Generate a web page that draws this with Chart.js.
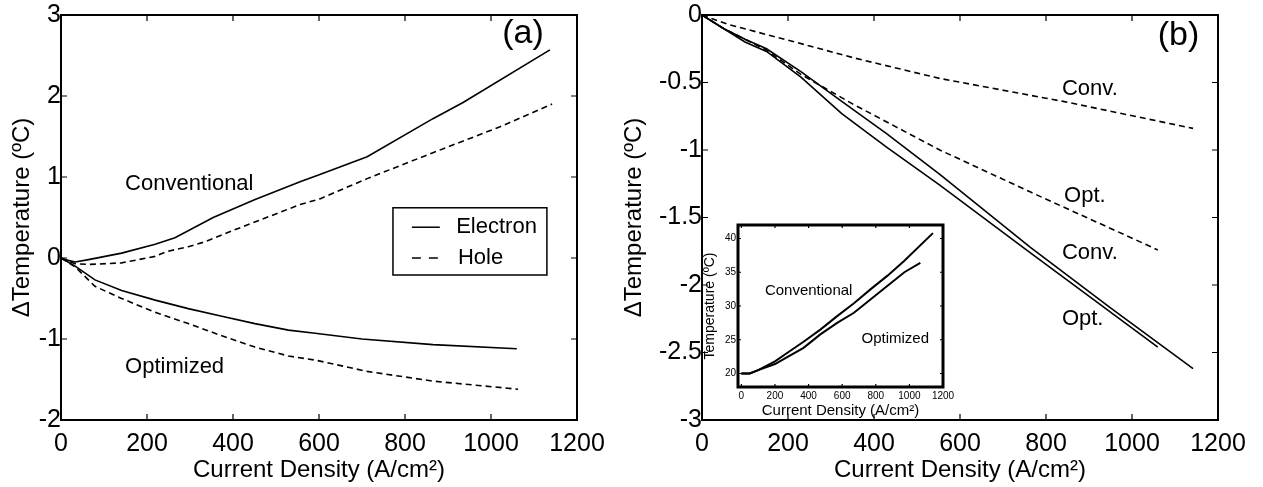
<!DOCTYPE html>
<html>
<head>
<meta charset="utf-8">
<script src="https://cdn.jsdelivr.net/npm/chart.js@4.4.1/dist/chart.umd.min.js"></script>
<style>
  body { margin: 0; background: #fff; }
  #wrap { position: relative; width: 1263px; height: 487px; overflow: hidden; }
  canvas { position: absolute; }
</style>
</head>
<body>
<div id="wrap">
  <canvas id="chartA" width="630" height="487" style="left:0;top:0"></canvas>
  <canvas id="chartB" width="648" height="487" style="left:615px;top:0"></canvas>
  <canvas id="chartInset" width="258" height="205" style="left:700px;top:215px"></canvas>
</div>
<script>
// tick values
const ticksX = [0, 200, 400, 600, 800, 1000, 1200];
const ticksYA = [-2, -1, 0, 1, 2, 3];
const ticksYB = [-3, -2.5, -2, -1.5, -1, -0.5, 0];
const ticksYInset = [20, 25, 30, 35, 40];

// (a) [current density, delta T]
const convElectronA = [[0,0],[9,-0.02],[33,-0.05],[64,-0.02],[141,0.06],[219,0.17],[265,0.25],[354,0.5],[450,0.72],[556,0.94],[602,1.03],[712,1.25],[865,1.72],[935,1.92],[1137,2.57]];
const convHoleA = [[0,0],[33,-0.07],[64,-0.08],[141,-0.06],[219,0.02],[246,0.08],[296,0.14],[335,0.2],[400,0.34],[556,0.66],[602,0.73],[712,0.98],[865,1.3],[1021,1.62],[1142,1.9]];
const optElectronA = [[0,0],[33,-0.1],[79,-0.27],[141,-0.4],[219,-0.52],[296,-0.625],[374,-0.72],[451,-0.81],[529,-0.89],[591,-0.93],[700,-1.0],[865,-1.07],[1060,-1.12]];
const optHoleA = [[0,0],[33,-0.11],[79,-0.35],[141,-0.5],[219,-0.67],[296,-0.81],[374,-0.96],[451,-1.1],[529,-1.21],[591,-1.26],[712,-1.4],[865,-1.52],[1063,-1.62]];

// (b)
const convElectronB = [[0,0],[50,-0.1],[100,-0.18],[150,-0.25],[230,-0.42],[325,-0.64],[430,-0.88],[553,-1.18],[763,-1.72],[950,-2.17],[1142,-2.62]];
const optElectronB = [[0,0],[50,-0.1],[100,-0.2],[150,-0.27],[230,-0.46],[325,-0.73],[430,-0.98],[553,-1.26],[763,-1.76],[1060,-2.46]];
const convHoleB = [[0,0],[61,-0.07],[216,-0.2],[356,-0.32],[553,-0.47],[840,-0.64],[1142,-0.84]];
const optHoleB = [[0,0],[50,-0.1],[100,-0.18],[150,-0.26],[230,-0.44],[351,-0.66],[553,-1.0],[763,-1.31],[1060,-1.74]];

// inset: temperature (C)
const convInset = [[0,20],[50,20],[100,20.5],[200,21.8],[270,23.0],[370,24.7],[470,26.5],[570,28.5],[670,30.4],[770,32.5],[870,34.5],[970,36.7],[1140,40.8]];
const optInset = [[0,20],[50,20],[100,20.5],[200,21.4],[270,22.4],[370,23.8],[470,25.8],[570,27.5],[670,29.0],[770,31.0],[870,33.0],[970,35.0],[1065,36.4]];

const FONT = "'Liberation Sans', Arial, sans-serif";
const toXY = arr => arr.map(p => ({ x: p[0], y: p[1] }));

// frame with inward ticks, text labels, small legend
const decor = {
  id: 'decor',
  afterDraw(chart, args, opts) {
    const { ctx, chartArea: a, scales: { x, y } } = chart;
    ctx.save();
    ctx.strokeStyle = '#000';
    ctx.lineWidth = opts.frame;
    ctx.strokeRect(a.left, a.top, a.right - a.left, a.bottom - a.top);
    const tl = opts.tick;
    ctx.lineWidth = 1.2;
    ctx.beginPath();
    x.ticks.forEach(t => {
      const px = x.getPixelForValue(t.value);
      if (px <= a.left + 2 || px >= a.right - 2) return;
      ctx.moveTo(px, a.bottom); ctx.lineTo(px, a.bottom - tl);
      ctx.moveTo(px, a.top); ctx.lineTo(px, a.top + tl);
    });
    y.ticks.forEach(t => {
      const py = y.getPixelForValue(t.value);
      if (py <= a.top + 2 || py >= a.bottom - 2) return;
      ctx.moveTo(a.left, py); ctx.lineTo(a.left + tl, py);
      ctx.moveTo(a.right, py); ctx.lineTo(a.right - tl, py);
    });
    ctx.stroke();

    ctx.fillStyle = '#000';
    ctx.textBaseline = 'middle';
    ctx.textAlign = 'left';
    (opts.texts || []).forEach(t => {
      ctx.font = t.font;
      ctx.fillText(t.text, x.getPixelForValue(t.x), y.getPixelForValue(t.y));
    });

    const lg = opts.legend;
    if (lg) {
      const x0 = x.getPixelForValue(lg.box[0]), x1 = x.getPixelForValue(lg.box[2]);
      const y0 = y.getPixelForValue(lg.box[1]), y1 = y.getPixelForValue(lg.box[3]);
      ctx.lineWidth = 1.5;
      ctx.strokeRect(x0, y0, x1 - x0, y1 - y0);
      ctx.font = lg.font;
      lg.items.forEach(it => {
        const py = y.getPixelForValue(it.y);
        ctx.setLineDash(it.dash);
        ctx.beginPath();
        ctx.moveTo(x.getPixelForValue(lg.sample[0]), py);
        ctx.lineTo(x.getPixelForValue(lg.sample[1]), py);
        ctx.stroke();
        ctx.setLineDash([]);
        ctx.fillText(it.text, x.getPixelForValue(it.tx), py);
      });
    }
    ctx.restore();
  }
};

function lineSet(data, dashed, width) {
  return {
    data: toXY(data),
    borderColor: '#000',
    borderWidth: width,
    borderDash: dashed ? [6, 4] : [],
    pointRadius: 0,
    tension: 0,
    fill: false
  };
}

function mainOptions(yMin, yMax, yTicks, yWidth, rightPad, titlePad, decorOpts) {
  return {
    responsive: false,
    animation: false,
    events: [],
    layout: { padding: { left: 0, right: rightPad, top: 14, bottom: 0 } },
    plugins: { legend: { display: false }, tooltip: { enabled: false }, decor: decorOpts },
    scales: {
      x: {
        type: 'linear', min: 0, max: 1200,
        afterBuildTicks: s => { s.ticks = ticksX.map(v => ({ value: v })); },
        afterFit: s => { s.height = 67; },
        grid: { display: false, drawTicks: false },
        border: { display: false },
        ticks: { color: '#000', font: { family: FONT, size: 25 }, padding: 9, maxRotation: 0, autoSkip: false, callback: v => String(v) },
        title: { display: true, text: 'Current Density (A/cm²)', color: '#000', font: { family: FONT, size: 24 }, padding: { top: 0, bottom: 2 } }
      },
      y: {
        type: 'linear', min: yMin, max: yMax,
        afterBuildTicks: s => { s.ticks = yTicks.map(v => ({ value: v })); },
        afterFit: s => { s.width = yWidth; },
        grid: { display: false, drawTicks: false },
        border: { display: false },
        ticks: { color: '#000', font: { family: FONT, size: 25 }, padding: 0, autoSkip: false, callback: v => String(v) },
        title: { display: true, text: 'ΔTemperature (ºC)', color: '#000', font: { family: FONT, size: 24 }, padding: titlePad }
      }
    }
  };
}

const f22 = '22px ' + FONT;
const f34 = '34px ' + FONT;

new Chart(document.getElementById('chartA'), {
  type: 'line',
  data: {
    datasets: [
      lineSet(convElectronA, false, 1.6),
      lineSet(convHoleA, true, 1.6),
      lineSet(optElectronA, false, 1.6),
      lineSet(optHoleA, true, 1.6)
    ]
  },
  options: mainOptions(-2, 3, ticksYA, 61, 53, { top: 8, bottom: 0 }, {
    frame: 2, tick: 6,
    texts: [
      { text: 'Conventional', x: 149, y: 0.92, font: f22 },
      { text: 'Optimized', x: 149, y: -1.34, font: f22 },
      { text: '(a)', x: 1026, y: 2.77, font: f34 }
    ],
    legend: {
      box: [772, 0.62, 1130, -0.21], sample: [816, 881], font: f22,
      items: [
        { text: 'Electron', y: 0.38, tx: 919, dash: [] },
        { text: 'Hole', y: 0.0, tx: 923, dash: [9, 8] }
      ]
    }
  }),
  plugins: [decor]
});

new Chart(document.getElementById('chartB'), {
  type: 'line',
  data: {
    datasets: [
      lineSet(convElectronB, false, 1.6),
      lineSet(optElectronB, false, 1.6),
      lineSet(convHoleB, true, 1.6),
      lineSet(optHoleB, true, 1.6)
    ]
  },
  options: mainOptions(-3, 0, ticksYB, 87, 45, { top: 5, bottom: 0 }, {
    frame: 2, tick: 6,
    texts: [
      { text: 'Conv.', x: 837, y: -0.55, font: f22 },
      { text: 'Opt.', x: 842, y: -1.34, font: f22 },
      { text: 'Conv.', x: 837, y: -1.76, font: f22 },
      { text: 'Opt.', x: 837, y: -2.25, font: f22 },
      { text: '(b)', x: 1060, y: -0.15, font: f34 }
    ]
  }),
  plugins: [decor]
});

new Chart(document.getElementById('chartInset'), {
  type: 'line',
  data: {
    datasets: [
      lineSet(convInset, false, 2),
      lineSet(optInset, false, 2)
    ]
  },
  options: {
    responsive: false,
    animation: false,
    events: [],
    layout: { padding: { left: 0, right: 15, top: 10, bottom: 0 } },
    plugins: {
      legend: { display: false }, tooltip: { enabled: false },
      decor: {
        frame: 3, tick: 3,
        texts: [
          { text: 'Conventional', x: 140, y: 32.3, font: '15px ' + FONT },
          { text: 'Optimized', x: 715, y: 25.1, font: '15px ' + FONT }
        ]
      }
    },
    scales: {
      x: {
        type: 'linear', min: -20, max: 1200,
        afterBuildTicks: s => { s.ticks = ticksX.map(v => ({ value: v })); },
        afterFit: s => { s.height = 33; },
        grid: { display: false, drawTicks: false },
        border: { display: false },
        ticks: { color: '#000', font: { family: FONT, size: 10 }, padding: 3, maxRotation: 0, autoSkip: false, callback: v => String(v) },
        title: { display: true, text: 'Current Density (A/cm²)', color: '#000', font: { family: FONT, size: 15 }, padding: 0 }
      },
      y: {
        type: 'linear', min: 18, max: 42,
        afterBuildTicks: s => { s.ticks = ticksYInset.map(v => ({ value: v })); },
        afterFit: s => { s.width = 38; },
        grid: { display: false, drawTicks: false },
        border: { display: false },
        ticks: { color: '#000', font: { family: FONT, size: 10 }, padding: 2, autoSkip: false },
        title: { display: true, text: 'Temperature (ºC)', color: '#000', font: { family: FONT, size: 14 }, padding: { top: 2, bottom: 0 } }
      }
    }
  },
  plugins: [decor]
});
</script>
</body>
</html>
